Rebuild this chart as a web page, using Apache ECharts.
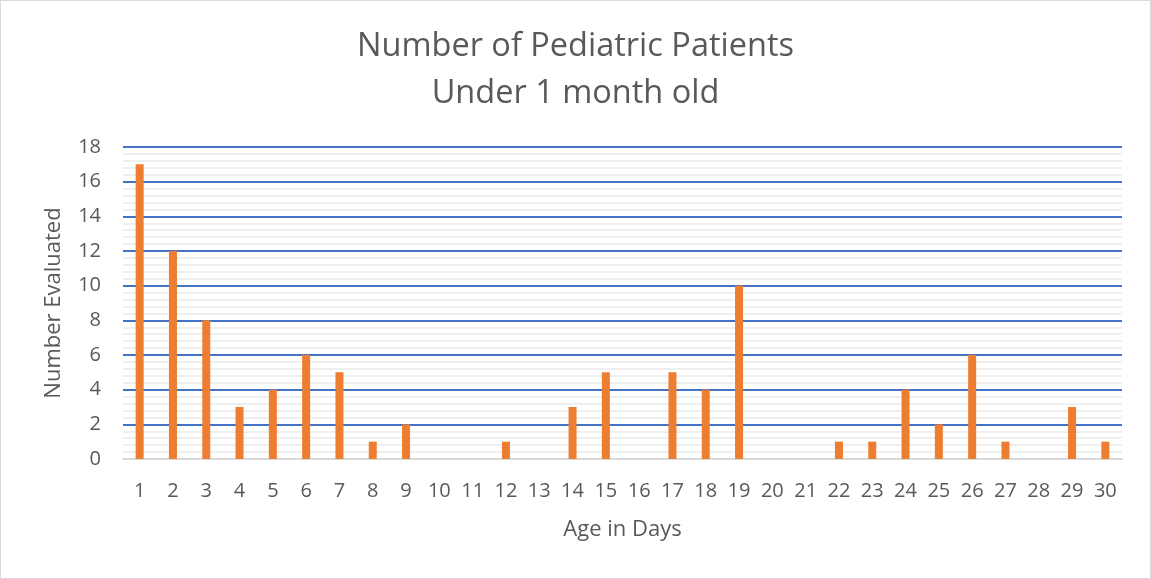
<!DOCTYPE html>
<html>
<head>
<meta charset="utf-8">
<script src="https://cdn.jsdelivr.net/npm/echarts@6/dist/echarts.min.js"></script>
<style>
  html, body { margin: 0; padding: 0; background: #fff; }
  #chart { width: 1151px; height: 579px; box-sizing: border-box; border: 1px solid #d9d9d9; }
</style>
</head>
<body>
<div id="chart"></div>
<script>
var days = [];
for (var d = 1; d <= 30; d++) days.push(String(d));
var counts = [17, 12, 8, 3, 4, 6, 5, 1, 2, 0, 0, 1, 0, 3, 5, 0, 5, 4, 10, 0, 0, 1, 1, 4, 2, 6, 1, 0, 3, 1];

var chart = echarts.init(document.getElementById('chart'));
var font = '"Open Sans", sans-serif';

chart.setOption({
    animation: false,
    title: {
        text: 'Number of Pediatric Patients\nUnder 1 month old',
        left: 'center',
        top: 17,
        textStyle: {
            fontFamily: font,
            fontSize: 32.5,
            fontWeight: 'normal',
            color: '#595959',
            lineHeight: 47
        }
    },
    grid: { left: 122, right: 28, top: 146, bottom: 119 },
    xAxis: {
        type: 'category',
        data: days,
        name: 'Age in Days',
        nameLocation: 'middle',
        nameGap: 60,
        nameTextStyle: { fontFamily: font, fontSize: 22, color: '#595959' },
        axisLine: { lineStyle: { color: '#d9d9d9', width: 2 } },
        axisTick: { show: false },
        axisLabel: { fontFamily: font, fontSize: 20, color: '#595959', margin: 22, interval: 0 }
    },
    yAxis: {
        type: 'value',
        min: 0,
        max: 18,
        interval: 2,
        name: 'Number Evaluated',
        nameLocation: 'middle',
        nameGap: 58,
        nameTextStyle: { fontFamily: font, fontSize: 22, color: '#595959' },
        axisLine: { show: false },
        axisTick: { show: false },
        axisLabel: { fontFamily: font, fontSize: 20, color: '#595959', margin: 22 },
        splitLine: { lineStyle: { color: '#4472c4', width: 2 } },
        minorTick: { show: false, splitNumber: 5 },
        minorSplitLine: { show: true, lineStyle: { color: '#efefef', width: 2 } }
    },
    series: [{
        type: 'bar',
        data: counts,
        barWidth: 8,
        itemStyle: { color: '#ed7d31' }
    }]
});
</script>
</body>
</html>
